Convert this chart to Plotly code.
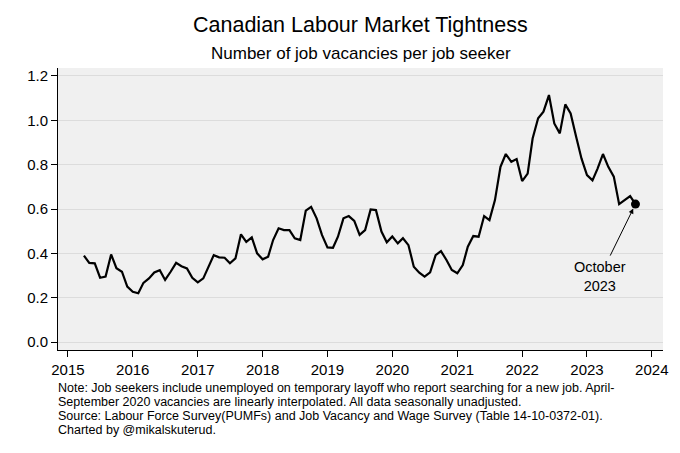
import plotly.graph_objects as go
import pandas as pd

start_month = "2015-04-01"
end_month = "2023-10-01"
ratio = [
    0.39, 0.357, 0.355, 0.29, 0.295, 0.395, 0.333, 0.317, 0.25,
    0.227, 0.22, 0.267, 0.287, 0.314, 0.324, 0.28, 0.317, 0.357, 0.342, 0.332, 0.29,
    0.269, 0.287, 0.34, 0.392, 0.382, 0.38, 0.355, 0.377, 0.486, 0.452, 0.472, 0.40,
    0.373, 0.385, 0.46, 0.513, 0.505, 0.505, 0.468, 0.46, 0.593, 0.61, 0.558, 0.483,
    0.427, 0.425, 0.475, 0.558, 0.568, 0.546, 0.483, 0.505, 0.598, 0.595, 0.498, 0.45,
    0.476, 0.445, 0.468, 0.437, 0.34, 0.313, 0.295, 0.314, 0.392, 0.41, 0.37, 0.325,
    0.31, 0.347, 0.43, 0.478, 0.475, 0.568, 0.55, 0.64, 0.79, 0.848, 0.813, 0.825,
    0.726, 0.76, 0.918, 1.009, 1.039, 1.114, 0.986, 0.941, 1.072, 1.031, 0.926, 0.828,
    0.753, 0.729, 0.781, 0.848, 0.79, 0.746, 0.622, 0.64, 0.658, 0.622,
]
months = pd.date_range(start_month, end_month, freq="MS")

y_ticks = [0.0, 0.2, 0.4, 0.6, 0.8, 1.0, 1.2]
x_tick_years = list(range(2015, 2025))

title = "Canadian Labour Market Tightness"
subtitle = "Number of job vacancies per job seeker"
label_text = "October<br>2023"
note_lines = [
    "Note: Job seekers include unemployed on temporary layoff who report searching for a new job. April-",
    "September 2020 vacancies are linearly interpolated. All data seasonally unadjusted.",
    "Source: Labour Force Survey(PUMFs) and Job Vacancy and Wage Survey (Table 14-10-0372-01).",
    "Charted by @mikalskuterud.",
]

font = "Liberation Sans, Arial, sans-serif"

fig = go.Figure()
fig.add_trace(go.Scatter(x=months, y=ratio, mode="lines",
                         line=dict(color="black", width=2.2), showlegend=False))
fig.add_trace(go.Scatter(x=[months[-1]], y=[ratio[-1]], mode="markers",
                         marker=dict(color="black", size=9), showlegend=False))

# arrow only
fig.add_annotation(x=months[-1], y=ratio[-1], xref="x", yref="y",
                   text="", showarrow=True, arrowhead=2, arrowsize=1,
                   arrowwidth=1, arrowcolor="black", ax=-26, ay=53, standoff=5)
fig.add_annotation(x=months[-1], y=ratio[-1], xref="x", yref="y",
                   text=label_text, showarrow=False, xshift=-35, yshift=-72,
                   xanchor="center", yanchor="middle",
                   font=dict(family=font, size=14.5, color="black"))

fig.add_annotation(text=title, xref="paper", yref="paper", x=0.5, y=1.0,
                   yshift=43, showarrow=False, xanchor="center", yanchor="middle",
                   font=dict(family=font, size=21.5, color="black"))
fig.add_annotation(text=subtitle, xref="paper", yref="paper", x=0.5, y=1.0,
                   yshift=15, showarrow=False, xanchor="center", yanchor="middle",
                   font=dict(family=font, size=17, color="black"))
for i, line in enumerate(note_lines):
    fig.add_annotation(text=line, xref="paper", yref="paper", x=0.0, y=0.0,
                       xshift=-2, yshift=-38 - 14 * i, showarrow=False,
                       xanchor="left", yanchor="middle", align="left",
                       font=dict(family=font, size=12.5, color="black"))

fig.update_layout(
    width=672, height=445,
    margin=dict(l=50, r=15, t=60, b=103),
    paper_bgcolor="white", plot_bgcolor="#f0f0f0",
    font=dict(family=font, size=14, color="black"),
)
fig.update_xaxes(
    type="date", range=["2014-11-06", "2024-03-04"],
    tickvals=[f"{y}-01-01" for y in x_tick_years], ticktext=[str(y) for y in x_tick_years],
    ticks="outside", ticklen=6, tickcolor="black", showline=True, linecolor="black",
    linewidth=1, showgrid=False, zeroline=False, tickfont=dict(size=15),
)
fig.update_yaxes(
    range=[-0.036, 1.236], tickvals=y_ticks, ticktext=[f"{v:.1f}" for v in y_ticks],
    ticks="outside", ticklen=6, tickcolor="black", showline=True, linecolor="black",
    linewidth=1, showgrid=True, gridcolor="#dcdcdc", gridwidth=1, zeroline=False,
    tickfont=dict(size=15),
)

fig.write_html("out.html")
